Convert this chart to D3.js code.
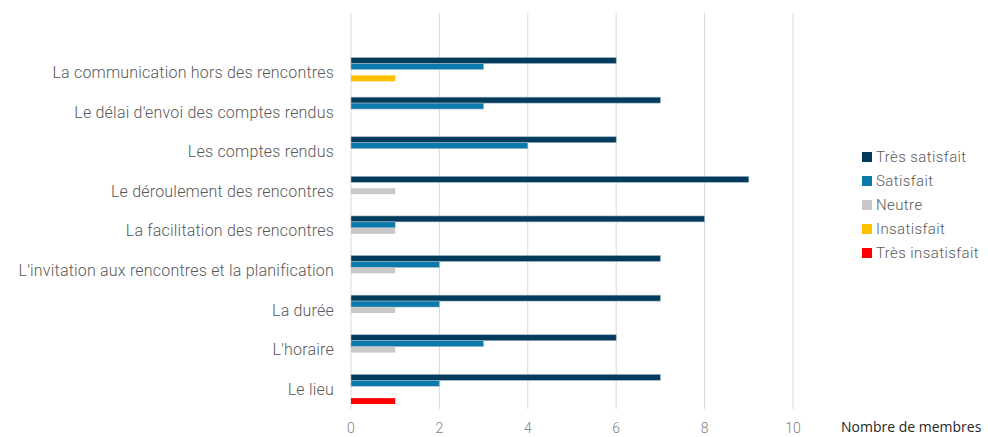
<!DOCTYPE html>
<html><head><meta charset="utf-8">
<script src="https://cdn.jsdelivr.net/npm/d3@7"></script>
<style>
html,body{margin:0;padding:0;background:#fff;}
svg{display:block;}
text{font-family:"Roboto",sans-serif;font-weight:300;}
</style></head>
<body>
<svg id="chart" width="988" height="437"></svg>
<script>
const categories = [
  "La communication hors des rencontres",
  "Le délai d'envoi des comptes rendus",
  "Les comptes rendus",
  "Le déroulement des rencontres",
  "La facilitation des rencontres",
  "L'invitation aux rencontres et la planification",
  "La durée",
  "L'horaire",
  "Le lieu"
];
const seriesNames = ["Très satisfait","Satisfait","Neutre","Insatisfait","Très insatisfait"];
const tresSatisfait   = [6,7,6,9,8,7,7,6,7];
const satisfait       = [3,3,4,0,1,2,2,3,2];
const neutre          = [0,0,0,1,1,1,1,1,0];
const insatisfait     = [1,0,0,0,0,0,0,0,0];
const tresInsatisfait = [0,0,0,0,0,0,0,0,1];
const xTicks = [0,2,4,6,8,10];
const colors = ["#023b5c","#0a7aad","#c8c8c8","#ffc000","#ff0000"];
const xTitle = "Nombre de membres";

const seriesValues = [tresSatisfait, satisfait, neutre, insatisfait, tresInsatisfait];
const svg = d3.select("#chart");

const x = d3.scaleLinear().domain([0,10]).range([351,793]);
const plotTop = 13, plotBottom = 409;
const bandH = (plotBottom - plotTop) / 10;
const y = d3.scaleBand().domain(categories).range([plotTop + bandH, plotBottom]).paddingInner(0).paddingOuter(0);
const inner = d3.scaleBand().domain(seriesNames).range([0, y.bandwidth()]).paddingInner(0).paddingOuter(0.833);

// gridlines
svg.append("g").selectAll("line").data(xTicks).join("line")
  .attr("x1", d => x(d)).attr("x2", d => x(d))
  .attr("y1", plotTop).attr("y2", plotBottom)
  .attr("stroke", "#d9d9d9").attr("stroke-width", 1);

// bars
const groups = svg.append("g").selectAll("g").data(categories).join("g")
  .attr("transform", c => `translate(0,${y(c)})`);
groups.each(function(c, ci){
  const g = d3.select(this);
  seriesNames.forEach((s, si) => {
    const v = seriesValues[si][ci];
    if (v > 0) {
      g.append("rect")
        .attr("x", x(0)).attr("y", inner(s))
        .attr("width", x(v) - x(0)).attr("height", inner.bandwidth())
        .attr("fill", colors[si])
        .attr("stroke", si < 2 ? "#9fb6c6" : "none").attr("stroke-width", 0.6);
    }
  });
});

// y labels
svg.append("g").selectAll("text").data(categories).join("text")
  .attr("x", 334).attr("y", c => y(c) + y.bandwidth()/2)
  .attr("text-anchor", "end").attr("dominant-baseline", "central")
  .attr("font-size", 16).attr("letter-spacing", 0.2).attr("fill", "#595959").text(c => c);

// x axis labels
svg.append("g").selectAll("text").data(xTicks).join("text")
  .attr("x", d => x(d)).attr("y", 433)
  .attr("text-anchor", "middle")
  .attr("font-size", 14).attr("fill", "#7f7f7f").text(d => d);

// x title
svg.append("text").attr("x", 841).attr("y", 431.7)
  .attr("font-size", 14).attr("fill", "#262626")
  .style("font-family", "'Open Sans', sans-serif").style("font-weight", 400).text(xTitle);

// legend
const lg = svg.append("g").selectAll("g").data(seriesNames).join("g")
  .attr("transform", (d,i) => `translate(862,${157 + i*24})`);
lg.append("rect").attr("x", 0).attr("y", -5).attr("width", 10).attr("height", 10)
  .attr("fill", (d,i) => colors[i]);
lg.append("text").attr("x", 14).attr("y", 0).attr("dominant-baseline", "central")
  .attr("font-size", 15).attr("letter-spacing", 0.4).attr("fill", "#595959").text(d => d);
</script>
</body></html>
